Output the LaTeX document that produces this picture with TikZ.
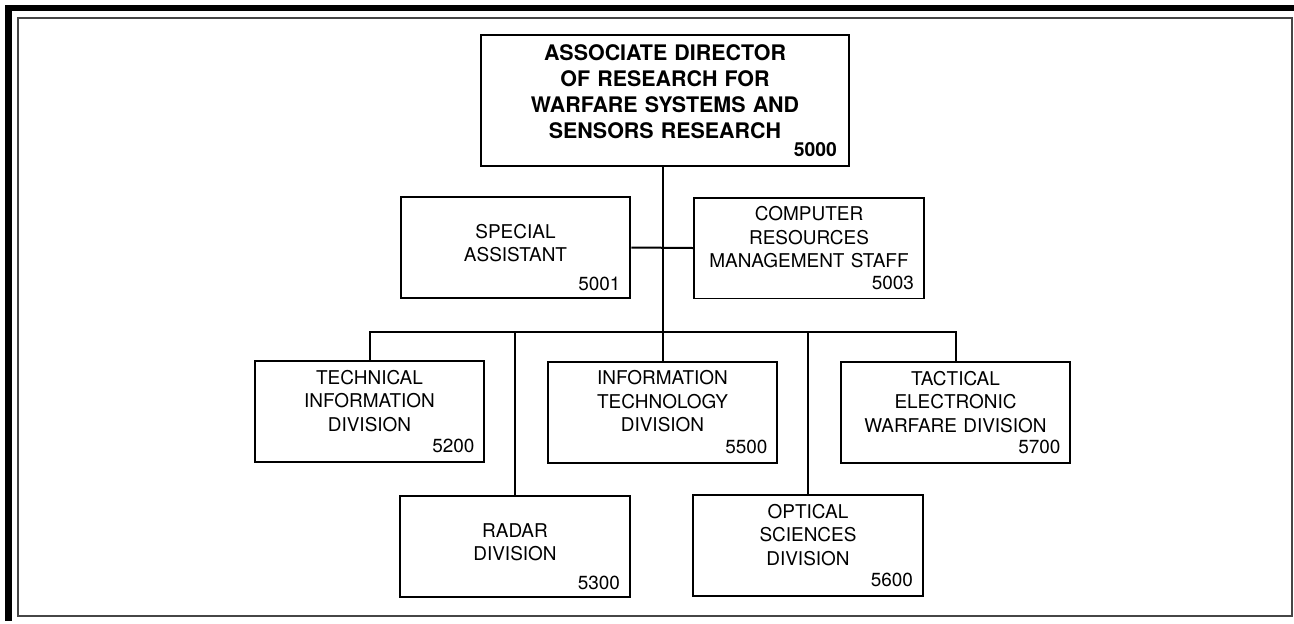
\documentclass[tikz,border=0pt]{standalone}
\usepackage{fontspec}
\setmainfont{TeX Gyre Heros}
\usepackage{tikz}
\definecolor{framegray}{RGB}{70,70,70}

\begin{document}
\begin{tikzpicture}[x=0.02cm, y=-0.02cm, line width=0.04cm,
    unit/.style={draw, align=center, minimum width=4.6cm, minimum height=2.02cm, text width=4.2cm, inner xsep=0.2cm, inner ysep=0pt, font=\fontsize{10.8}{13.3}\selectfont},
    chief/.style={unit, minimum width=7.36cm, minimum height=2.62cm, text width=6.88cm, inner xsep=0.24cm, font=\bfseries\fontsize{12.2}{14.8}\selectfont}]
    \useasboundingbox (0,0) rectangle (1294,623);
    \draw[line width=0.12cm] (6,8) -- (1294,8);
    \draw[line width=0.14cm] (8.5,5) -- (8.5,621);
    \draw[framegray] (18,18) rectangle (1292,616);

    \node[chief] (ad) at (665,100.5) {ASSOCIATE DIRECTOR\\ OF RESEARCH FOR\\ WARFARE SYSTEMS AND\\ SENSORS RESEARCH\\[-4.5pt] \hfill{\fontsize{11}{11}\selectfont 5000}};
    \node[unit] (sa) at (515.5,247.5) {\rule{0pt}{19pt}SPECIAL\\ ASSISTANT\\[3pt] \hfill 5001};
    \node[unit] (crm) at (809,248) {COMPUTER\\ RESOURCES\\ MANAGEMENT STAFF\\[-1pt] \hfill 5003};
    \node[unit] (tid) at (369.5,411.5) {TECHNICAL\\ INFORMATION\\ DIVISION\\[-1pt] \hfill 5200};
    \node[unit] (itd) at (662.5,412) {INFORMATION\\ TECHNOLOGY\\ DIVISION\\[-1pt] \hfill 5500};
    \node[unit] (tewd) at (955.5,412.5) {TACTICAL\\ ELECTRONIC\\ WARFARE DIVISION\\[-1pt] \hfill 5700};
    \node[unit] (rd) at (515,546.5) {\rule{0pt}{19pt}RADAR\\ DIVISION\\[3pt] \hfill 5300};
    \node[unit] (osd) at (808,545.5) {OPTICAL\\ SCIENCES\\ DIVISION\\[-1pt] \hfill 5600};

    \coordinate (bus) at (662.5,332);
    \draw (ad.south -| itd.north) -- (itd.north);
    \draw (sa.east) -- (crm.west);
    \draw (tid.north) |- (bus) -| (tewd.north);
    \draw (rd.north) -- (rd.north |- bus);
    \draw (osd.north) -- (osd.north |- bus);
  \end{tikzpicture}
\end{document}
